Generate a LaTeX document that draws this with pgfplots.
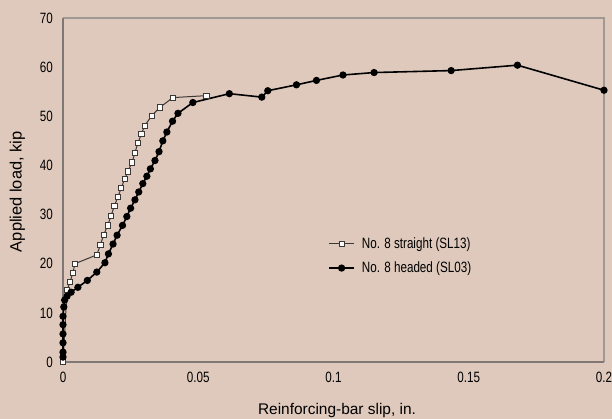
\documentclass[border=0pt]{standalone}
\usepackage{fontspec}
\setmainfont{Liberation Sans}
\newfontfamily\narrowfont{Liberation Sans}[FakeStretch=0.78]
\usepackage{pgfplots}
\pgfplotsset{compat=1.18}
\definecolor{bg}{HTML}{DFC9BC}
\definecolor{frameA}{RGB}{128,120,116}
\definecolor{frameB}{RGB}{160,152,147}
\definecolor{sqline}{RGB}{60,56,54}
\begin{document}
\begin{tikzpicture}
\fill[bg] (0,0) rectangle (612bp,419bp);
\useasboundingbox (0,0) rectangle (612bp,419bp);
\begin{axis}[
  at={(63bp,57bp)}, anchor=south west,
  width=541bp, height=344bp, scale only axis,
  xmin=0, xmax=0.2, ymin=0, ymax=70,
  xtick={0,0.05,0.1,0.15,0.2}, xticklabels={0,0.05,0.1,0.15,0.2},
  ytick={0,10,20,30,40,50,60,70},
  major tick length=0pt,
  axis line style={draw=none},
  clip=false,
  /pgf/number format/assume math mode=true,
  tick label style={font=\narrowfont\fontsize{15}{17}\selectfont, inner sep=0pt},
  yticklabel shift=10bp,
  xticklabel shift=10bp,
  xlabel={Reinforcing-bar slip, in.},
  ylabel={Applied load, kip},
  xlabel style={font=\fontsize{15.5}{18}\selectfont, at={(axis description cs:0.5065,-0.1424)}, anchor=center},
  ylabel style={font=\fontsize{16.5}{19}\selectfont, at={(axis description cs:-0.0841,0.495)}, anchor=center},
  legend style={at={(axis description cs:0.49,0.368)}, anchor=north west,
    draw=none, fill=none, inner sep=0pt, row sep=8bp,
    font=\narrowfont\fontsize{15}{17}\selectfont},
  legend cell align=left,
]
\draw[frameB, line width=1.2bp] (rel axis cs:0,1) -- (rel axis cs:1,1) -- (rel axis cs:1,0);
\draw[frameA, line width=2bp] (rel axis cs:0,1) -- (rel axis cs:0,0) -- (rel axis cs:1,0);

\addplot[sqline, line width=1bp, mark=square*, mark size=2.6bp,
  mark options={fill=white, draw=sqline, line width=0.8bp},
  legend image code/.code={
    \draw[mark repeat=2,mark phase=2] plot coordinates {(0bp,0bp) (12.5bp,0bp) (25bp,0bp)};
    \path (30bp,0bp);
  }] coordinates {
(0,0) (0.0015,14.6) (0.0026,16.3) (0.0037,18.2) (0.0044,20) (0.0125,21.8)
(0.0138,23.8) (0.015,25.8) (0.0165,27.8) (0.0178,29.8) (0.019,31.8)
(0.0203,33.6) (0.0215,35.4) (0.0228,37.2) (0.024,38.8) (0.0255,40.6)
(0.0266,42.6) (0.0277,44.6) (0.029,46.4) (0.0302,48.1) (0.0328,50.1)
(0.0358,51.8) (0.0406,53.8) (0.053,54.2)
};
\addlegendentry{No. 8 straight (SL13)}

\addplot[black, line width=1.6bp, mark=*, mark size=2.8bp,
  mark options={fill=black},
  legend image code/.code={
    \draw[mark repeat=2,mark phase=2] plot coordinates {(0bp,0bp) (12.5bp,0bp) (25bp,0bp)};
    \path (30bp,0bp);
  }] coordinates {
(0,1) (0,2) (0,3.9) (0,5.7) (0,7.6) (0,9.3) (0.0003,11.2) (0.0006,12.6)
(0.0015,13.4) (0.003,14.2) (0.0055,15.2) (0.009,16.6) (0.0125,18.3)
(0.0155,20.2) (0.0168,22) (0.0185,24) (0.020,25.8) (0.022,27.8)
(0.0236,29.6) (0.025,31.3) (0.0266,33) (0.028,34.6) (0.0295,36.3)
(0.031,37.8) (0.0323,39.3) (0.034,41) (0.0355,42.8) (0.0369,45)
(0.0384,46.8) (0.0405,49) (0.0425,50.6) (0.048,52.8) (0.0615,54.6)
(0.0735,53.9) (0.0757,55.2) (0.0863,56.4) (0.0937,57.3) (0.1035,58.4)
(0.115,58.9) (0.1435,59.3) (0.168,60.4) (0.2,55.3)
};
\addlegendentry{No. 8 headed (SL03)}
\end{axis}
\end{tikzpicture}
\end{document}
